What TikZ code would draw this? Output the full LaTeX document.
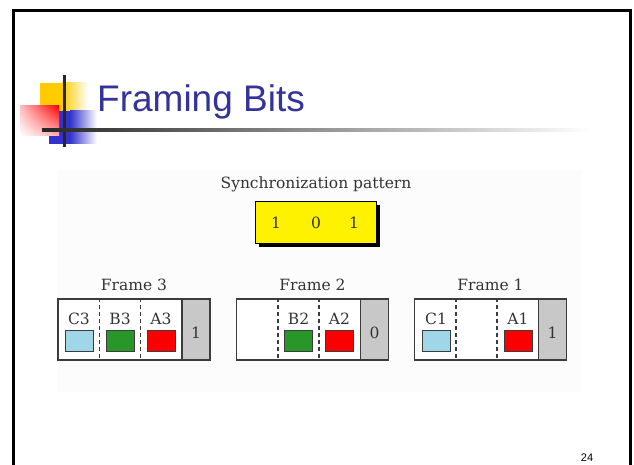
\documentclass[tikz,border=0pt]{standalone}
\usepackage{fontspec}
\setmainfont{DejaVu Serif}
\newfontfamily\titlefont{Liberation Sans}
\usepackage{tikz}
\usetikzlibrary{calc}
\usetikzlibrary{shadows}
\usetikzlibrary{shadings}

\definecolor{titleblue}{RGB}{51,51,153}
\definecolor{ppyellow}{RGB}{255,204,0}
\definecolor{ppblue}{RGB}{51,51,204}
\definecolor{skyslot}{RGB}{160,215,232}
\definecolor{greenslot}{RGB}{40,150,40}
\definecolor{redslot}{RGB}{250,0,0}
\definecolor{bitgray}{RGB}{200,200,200}
\definecolor{edgegray}{RGB}{60,60,60}

\tikzset{
  figtext/.style={font=\fontsize{15.5}{18}\selectfont, text=black!80, inner sep=0pt},
  framebox/.style={draw=edgegray, fill=white, line width=1.1pt, minimum width=152pt, minimum height=61pt, inner sep=0pt},
  bitbox/.style={draw=edgegray, line width=1.1pt, fill=bitgray, minimum width=28pt, minimum height=61pt, inner sep=0pt, anchor=north east},
  slotbox/.style={draw=edgegray, line width=0.9pt, minimum width=28pt, minimum height=21pt, inner sep=0pt},
  sep/.style={draw=edgegray, line width=1.2pt, dash pattern=on 4pt off 3pt},
}

\begin{document}
\begin{tikzpicture}[x=1pt, y=-1pt]
  \useasboundingbox (0,0) rectangle (634,465);

  % slide frame
  \draw[line width=3pt] (13.7,470) -- (13.7,11) -- (630,11) -- (630,470);

  % title decoration
  \fill[ppyellow] (40,83) rectangle (62,112);
  \shade[left color=ppyellow, right color=white] (62,83) rectangle (88,112);
  \fill[ppblue] (49,111) rectangle (70,144);
  \shade[left color=ppblue, right color=white] (70,111) rectangle (97,144);
  \shade[upper right=red, upper left=red!25, lower right=red!30, lower left=white] (20,106) rectangle (59,136);
  \fill[black!85] (62.5,75) rectangle (65.5,147);
  \shade[left color=black!85, right color=white] (42,128.5) rectangle (590,131.5);
  \node[anchor=base west, font=\titlefont\fontsize{37}{40}\selectfont, text=titleblue, inner sep=0pt] (title) at (97,112) {Framing Bits};

  % figure
  \fill[black!1] (57,170) rectangle (582,392);

  \node[figtext, anchor=base] (synclabel) at (316,189) {Synchronization pattern};
  \node[draw=black, fill=yellow, line width=0.8pt, minimum width=121pt, minimum height=42pt,
        drop shadow={shadow xshift=4pt, shadow yshift=-4pt, fill=black, opacity=1}] (sync) at (315.5,222) {};
  \node[figtext, anchor=base] (s1) at (276,228) {1};
  \node[figtext, anchor=base] (s2) at (316,228) {0};
  \node[figtext, anchor=base] (s3) at (354,228) {1};

  % frame 3
  \node[figtext, anchor=base] (f3label) at (134,290) {Frame 3};
  \node[framebox] (f3) at (134,329.5) {};
  \node[bitbox] (f3bit) at (f3.north east) {};
  \node[figtext, anchor=base] (f3bittext) at (f3bit.center |- 0,338) {1};
  \draw[sep] ($(f3.north west)+(42,0)$) -- ($(f3.south west)+(42,0)$);
  \draw[sep] ($(f3.north west)+(83,0)$) -- ($(f3.south west)+(83,0)$);
  \node[figtext, anchor=base] (c3) at (79,324) {C3};
  \node[figtext, anchor=base] (b3) at (120,324) {B3};
  \node[figtext, anchor=base] (a3) at (161,324) {A3};
  \node[slotbox, fill=skyslot] (c3sq) at (79,340.5) {};
  \node[slotbox, fill=greenslot] (b3sq) at (120,340.5) {};
  \node[slotbox, fill=redslot] (a3sq) at (161,340.5) {};

  % frame 2
  \node[figtext, anchor=base] (f2label) at (312.5,290) {Frame 2};
  \node[framebox] (f2) at (312.5,329.5) {};
  \node[bitbox] (f2bit) at (f2.north east) {};
  \node[figtext, anchor=base] (f2bittext) at (f2bit.center |- 0,338) {0};
  \draw[sep] ($(f2.north west)+(42,0)$) -- ($(f2.south west)+(42,0)$);
  \draw[sep] ($(f2.north west)+(83,0)$) -- ($(f2.south west)+(83,0)$);
  \node[figtext, anchor=base] (b2) at (298.5,324) {B2};
  \node[figtext, anchor=base] (a2) at (339.5,324) {A2};
  \node[slotbox, fill=greenslot] (b2sq) at (298.5,340.5) {};
  \node[slotbox, fill=redslot] (a2sq) at (339.5,340.5) {};

  % frame 1
  \node[figtext, anchor=base] (f1label) at (490.5,290) {Frame 1};
  \node[framebox] (f1) at (490.5,329.5) {};
  \node[bitbox] (f1bit) at (f1.north east) {};
  \node[figtext, anchor=base] (f1bittext) at (f1bit.center |- 0,338) {1};
  \draw[sep] ($(f1.north west)+(42,0)$) -- ($(f1.south west)+(42,0)$);
  \draw[sep] ($(f1.north west)+(83,0)$) -- ($(f1.south west)+(83,0)$);
  \node[figtext, anchor=base] (c1) at (436,324) {C1};
  \node[figtext, anchor=base] (a1) at (518,324) {A1};
  \node[slotbox, fill=skyslot] (c1sq) at (436,340.5) {};
  \node[slotbox, fill=redslot] (a1sq) at (518,340.5) {};

  % page number
  \node[anchor=base, font=\titlefont\fontsize{11}{13}\selectfont, inner sep=0pt] (pageno) at (587,461) {24};
\end{tikzpicture}
\end{document}
